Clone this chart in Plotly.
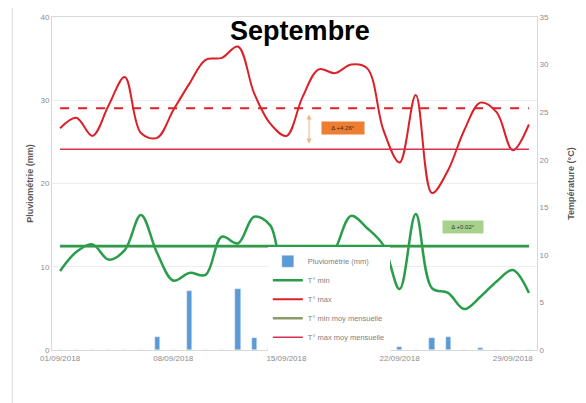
import plotly.graph_objects as go

days = [f"{d:02d}/09/2018" for d in range(1, 31)]
tick_days = ["01/09/2018", "08/09/2018", "15/09/2018", "22/09/2018", "29/09/2018"]

# pluviométrie (mm) par jour
pluie = [0, 0, 0, 0, 0, 0, 1.6, 0, 7.1, 0, 0, 7.3, 1.4, 0.2, 0,
         0, 0, 0, 0, 0, 0, 0.35, 0, 1.4, 1.6, 0, 0.2, 0, 0, 0]

# températures (°C)
tmax = [23.3, 24.4, 22.5, 25.7, 28.7, 22.8, 22.3, 25.2, 28.0, 30.5,
        30.7, 31.9, 27.0, 23.8, 22.5, 26.6, 29.5, 29.1, 30.0, 29.6,
        23.1, 19.7, 26.8, 16.5, 18.9, 23.1, 26.0, 25.0, 21.0, 23.7]
tmin = [8.3, 10.3, 11.1, 9.5, 10.5, 14.2, 10.2, 7.3, 8.1, 7.9,
        11.9, 11.2, 14.0, 13.1, 7.0, 7.5, 8.0, 10.5, 14.1, 12.8,
        11.0, 6.4, 14.3, 6.5, 6.0, 4.3, 5.6, 7.2, 8.4, 6.0]

tmin_moy_mensuelle = 10.9
tmin_moy_mois = 10.92
tmax_moy_mensuelle = 21.1
tmax_moy_mois = 25.4

n = len(days)
red = "#dc2027"
green = "#2a9d4a"
grey_txt = "#8c8c8c"

fig = go.Figure()

fig.add_trace(go.Bar(x=days, y=pluie, name="Pluviométrie (mm)",
                     marker_color="#5b9bd5", width=0.32, yaxis="y"))
fig.add_trace(go.Scatter(x=days, y=tmin, name="T° min", mode="lines",
                         line=dict(color=green, width=2.5, shape="spline", smoothing=1),
                         yaxis="y2"))
fig.add_trace(go.Scatter(x=days, y=tmax, name="T° max", mode="lines",
                         line=dict(color=red, width=2, shape="spline", smoothing=1),
                         yaxis="y2"))
fig.add_trace(go.Scatter(x=days, y=[tmin_moy_mensuelle] * n, name="T° min moy mensuelle",
                         mode="lines", line=dict(color="#8c9a6c", width=2.5), yaxis="y2"))
fig.add_trace(go.Scatter(x=days, y=[tmax_moy_mensuelle] * n, name="T° max moy mensuelle",
                         mode="lines", line=dict(color="#d9304f", width=1.5), yaxis="y2"))
# moyennes du mois (hors légende)
fig.add_trace(go.Scatter(x=days, y=[tmin_moy_mois] * n, mode="lines", showlegend=False,
                         line=dict(color=green, width=2.5), yaxis="y2"))
fig.add_trace(go.Scatter(x=days, y=[tmax_moy_mois] * n, mode="lines", showlegend=False,
                         line=dict(color=red, width=2, dash="dash"), yaxis="y2"))

fig.add_annotation(x=17.5, y=23.3, xref="x", yref="y2", text="Δ +4.26°", showarrow=False,
                   bgcolor="#ed7d31", font=dict(size=6, color="#3a2a1a"), width=40, height=10)
fig.add_annotation(x=24.9, y=12.9, xref="x", yref="y2", text="Δ +0.02°", showarrow=False,
                   bgcolor="#a9d18e", font=dict(size=6, color="#2a3a2a"), width=38, height=10)
fig.add_annotation(x=15.4, y=21.7, ax=15.4, ay=24.9, xref="x", yref="y2", axref="x", ayref="y2",
                   text="", showarrow=True, arrowhead=2, arrowside="end+start", arrowsize=1,
                   arrowwidth=1, arrowcolor="#f4b183")

# cadre extérieur du graphique
fig.add_shape(type="rect", xref="paper", yref="paper", x0=-0.082, x1=1.095, y0=-0.2, y1=1.03,
              line=dict(color="#d9d9d9", width=1), layer="below")

fig.update_layout(
    width=578, height=395,
    margin=dict(l=44, r=49, t=9, b=53, autoexpand=False),
    paper_bgcolor="white", plot_bgcolor="white",
    font=dict(family="Liberation Sans", size=8, color=grey_txt),
    title=dict(text="<b>Septembre</b>", x=0.505, xanchor="center", y=0.942, yanchor="middle",
               font=dict(family="Liberation Sans", size=27, color="black")),
    showlegend=True,
    legend=dict(x=0.445, y=0.31, xanchor="left", yanchor="top", bgcolor="white",
                font=dict(size=7.5, color="#7f7f7f"), tracegroupgap=0, itemwidth=30,
                traceorder="normal"),
    bargap=0,
    xaxis=dict(type="category", tickvals=tick_days, ticktext=tick_days, automargin=False,
               showline=True, linecolor="#d9d9d9", mirror=True, showgrid=False,
               ticks="", tickfont=dict(size=8, color=grey_txt), tickangle=0),
    yaxis=dict(title=dict(text="<b>Pluviométrie (mm)</b>", font=dict(size=9, color="#595959"), standoff=5),
               range=[0, 40], dtick=10, showgrid=True, gridcolor="#ececec", automargin=False,
               showline=True, linecolor="#d9d9d9", zeroline=False,
               tickfont=dict(size=8, color=grey_txt)),
    yaxis2=dict(title=dict(text="<b>Température (°C)</b>", font=dict(size=9, color="#595959"), standoff=19),
                range=[0, 35], dtick=5, overlaying="y", side="right", showgrid=False, automargin=False,
                showline=True, linecolor="#d9d9d9", zeroline=False,
                tickfont=dict(size=8, color=grey_txt)),
)

fig.write_html("out.html")
